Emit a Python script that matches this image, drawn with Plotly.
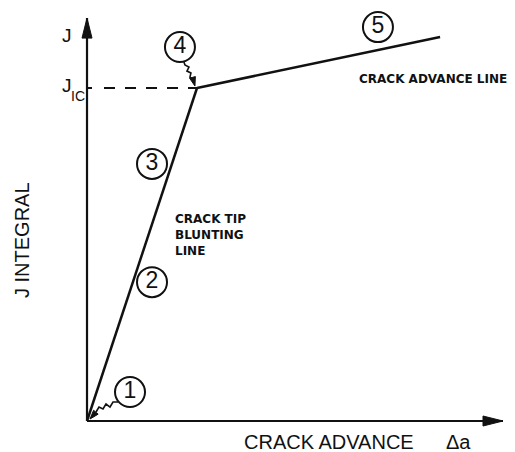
import plotly.graph_objects as go

# Schematic J-R curve: J integral against crack advance (normalised units, J_IC = 1)
blunt_da = [0.0, 1.0]          # crack tip blunting line
blunt_j = [0.0, 1.0]
advance_da = [1.0, 3.21]       # crack advance line
advance_j = [1.0, 1.153]
j_ic = 1.0
axis_end_da = 3.782
axis_end_j = 1.21

# numbered call-outs
callout_text = ["1", "2", "3", "4", "5"]
callout_da = [0.391, 0.591, 0.591, 0.845, 2.645]
callout_j = [0.087, 0.417, 0.772, 1.123, 1.183]

W, H = 515, 452
X_RANGE = [-0.791, 3.891]
Y_RANGE = [-0.0931, 1.2643]
SX = W / (X_RANGE[1] - X_RANGE[0])   # pixels per unit of crack advance
SY = H / (Y_RANGE[1] - Y_RANGE[0])   # pixels per unit of J

INK = "#111111"


def shift(x, y, dx, dy):
    """Move a data point by a screen offset in pixels (dy positive = down)."""
    return x + dx / SX, y - dy / SY


def arrow_head(tx, ty, ux, uy, length, half_w):
    """Filled triangular head with its tip at (tx, ty) pointing along (ux, uy) in screen space."""
    n = (ux * ux + uy * uy) ** 0.5
    ux, uy = ux / n, uy / n
    px, py = -uy, ux
    bx, by = -ux * length, -uy * length
    pts = [(0, 0), (bx + px * half_w, by + py * half_w), (bx - px * half_w, by - py * half_w)]
    coords = [shift(tx, ty, dx, dy) for dx, dy in pts]
    path = "M " + " L ".join(f"{x},{y}" for x, y in coords) + " Z"
    return dict(type="path", path=path, xref="x", yref="y",
                fillcolor=INK, line=dict(color=INK, width=1), layer="above")


fig = go.Figure()

# main curve segments
fig.add_trace(go.Scatter(x=blunt_da, y=blunt_j, mode="lines",
                         line=dict(color=INK, width=2.5), hoverinfo="skip"))
fig.add_trace(go.Scatter(x=advance_da, y=advance_j, mode="lines",
                         line=dict(color=INK, width=2.5), hoverinfo="skip"))

# J_IC reference: short tick on the axis and a dashed line to the intersection
x0, _ = shift(0, j_ic, 5, 0)
fig.add_trace(go.Scatter(x=[0, x0], y=[j_ic, j_ic], mode="lines",
                         line=dict(color=INK, width=2), hoverinfo="skip"))
xs, _ = shift(0, j_ic, 17, 0)
fig.add_trace(go.Scatter(x=[xs, advance_da[0]], y=[j_ic, j_ic], mode="lines",
                         line=dict(color=INK, width=2, dash="11px,10px"), hoverinfo="skip"))

# wavy leaders from call-outs 1 and 4
c1x, c1y = callout_da[0], callout_j[0]
lead1 = [(-12, 10), (-17, 10), (-20, 15), (-24, 12), (-27, 17), (-31, 15), (-34, 20)]
pts1 = [shift(c1x, c1y, dx, dy) for dx, dy in lead1]
fig.add_trace(go.Scatter(x=[p[0] for p in pts1], y=[p[1] for p in pts1], mode="lines",
                         line=dict(color=INK, width=1.6), hoverinfo="skip"))
tip1 = shift(c1x, c1y, -40, 27)

c4x, c4y = callout_da[3], callout_j[3]
lead4 = [(4, 15), (5, 18), (9, 20), (7, 24), (11, 26), (10, 30), (13, 32)]
pts4 = [shift(c4x, c4y, dx, dy) for dx, dy in lead4]
fig.add_trace(go.Scatter(x=[p[0] for p in pts4], y=[p[1] for p in pts4], mode="lines",
                         line=dict(color=INK, width=1.6), hoverinfo="skip"))
tip4 = shift(c4x, c4y, 15, 39)

# circled numbers
fig.add_trace(go.Scatter(
    x=callout_da, y=callout_j, mode="markers+text",
    text=callout_text, textposition="middle center",
    textfont=dict(family="Liberation Sans, Arial, sans-serif", size=23, color=INK),
    marker=dict(symbol="circle", size=30, color="white",
                line=dict(color=INK, width=2)),
    hoverinfo="skip"))

shapes = [
    # axes
    dict(type="line", xref="x", yref="y", x0=0, y0=0, x1=axis_end_da, y1=0,
         line=dict(color=INK, width=2.2)),
    dict(type="line", xref="x", yref="y", x0=0, y0=0, x1=0, y1=axis_end_j,
         line=dict(color=INK, width=2.2)),
    arrow_head(axis_end_da, 0, 1, 0, 20, 5),
    arrow_head(0, axis_end_j, 0, -1, 20, 5),
    arrow_head(tip1[0], tip1[1], -6, 7, 9, 3),
    arrow_head(tip4[0], tip4[1], 2, 7, 9, 3),
]

sans = "Liberation Sans, Arial, sans-serif"
bold = "DejaVu Sans, Verdana, sans-serif"


def label(x, y, text, size, family=sans, xanchor="center", yanchor="middle", angle=0):
    return dict(x=x, y=y, xref="x", yref="y", text=text, showarrow=False,
                xanchor=xanchor, yanchor=yanchor, textangle=angle,
                font=dict(family=family, size=size, color=INK))


annotations = [
    label(*shift(0, axis_end_j, -20, 17), "J", 19),
    label(*shift(0, j_ic, -20, -3), "J", 19),
    label(*shift(0, j_ic, -9, 8), "IC", 14),
    label(shift(0, 0, -65, 0)[0], shift(0, 0, 0, -181)[1], "J INTEGRAL", 20, angle=-90),
    label(shift(0, 0, 242, 0)[0], shift(0, 0, 0, 21)[1], "CRACK ADVANCE", 20),
    label(shift(0, 0, 371, 0)[0], shift(0, 0, 0, 21)[1], "Δa", 20),
    label(*shift(advance_da[0], advance_j[0], 160, -9), "<b>CRACK ADVANCE LINE</b>", 12,
          family=bold, xanchor="left"),
    label(*shift(0, 0, 86, -202), "<b>CRACK TIP</b>", 12, family=bold, xanchor="left"),
    label(*shift(0, 0, 86, -186), "<b>BLUNTING</b>", 12, family=bold, xanchor="left"),
    label(*shift(0, 0, 86, -170), "<b>LINE</b>", 12, family=bold, xanchor="left"),
]

fig.update_layout(
    width=W, height=H,
    margin=dict(l=0, r=0, t=0, b=0),
    paper_bgcolor="white", plot_bgcolor="white",
    showlegend=False, hovermode=False,
    xaxis=dict(range=X_RANGE, visible=False, fixedrange=True),
    yaxis=dict(range=Y_RANGE, visible=False, fixedrange=True),
    shapes=shapes,
    annotations=annotations,
)

fig.write_html("out.html", config={"displayModeBar": False})
